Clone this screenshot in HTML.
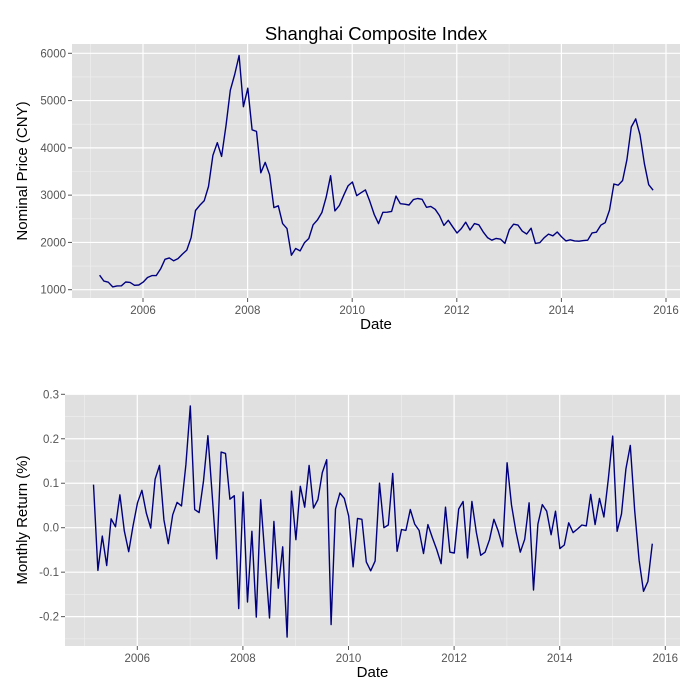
<!DOCTYPE html>
<html><head><meta charset="utf-8"><style>
body{margin:0;background:#fff;}
svg{display:block;font-family:"Liberation Sans",sans-serif;}
</style></head><body>
<svg id="c" width="700" height="700"></svg>
<script>
const prices=[1306,1181,1159,1060,1081,1083,1163,1155,1093,1099,1161,
1258,1299,1298,1440,1642,1672,1612,1658,1752,1838,2099,2675,
2786,2881,3183,3841,4109,3820,4471,5218,5552,5954,4871,5262,
4383,4348,3473,3693,3433,2736,2775,2397,2293,1729,1871,1821,
1991,2082,2373,2477,2633,2959,3412,2667,2779,2996,3195,3277,
2989,3051,3110,2870,2592,2398,2638,2639,2656,2979,2820,2808,
2791,2905,2928,2911,2743,2762,2701,2568,2359,2468,2333,2199,
2292,2428,2263,2397,2373,2225,2103,2047,2086,2069,1980,2269,
2385,2366,2237,2178,2301,1979,1994,2098,2175,2141,2220,2116,
2033,2056,2033,2026,2039,2048,2202,2217,2364,2420,2683,3235,
3210,3310,3748,4442,4612,4277,3664,3220,3105];
const returns=[.097,-.096,-.019,-.085,.020,.002,.074,-.007,-.054,.005,.056,
.084,.033,-.001,.109,.140,.018,-.036,.029,.057,.049,.142,.274,
.041,.034,.105,.207,.070,-.070,.170,.167,.064,.072,-.182,.080,
-.167,-.008,-.201,.063,-.070,-.203,.014,-.136,-.043,-.246,.082,-.027,
.093,.046,.140,.044,.063,.124,.153,-.218,.042,.078,.066,.026,
-.088,.021,.019,-.077,-.097,-.075,.100,.000,.006,.122,-.053,-.004,
-.006,.041,.008,-.006,-.058,.007,-.022,-.049,-.081,.046,-.055,-.057,
.042,.059,-.068,.059,-.010,-.062,-.055,-.027,.019,-.008,-.043,.146,
.051,-.008,-.055,-.026,.056,-.140,.008,.052,.037,-.016,.037,-.047,
-.039,.011,-.011,-.003,.006,.004,.075,.007,.066,.024,.109,.206,
-.008,.031,.132,.185,.038,-.073,-.143,-.121,-.036];
const startYear=2005.17, stepYear=1/12;
const xTicks=[2006,2008,2010,2012,2014,2016];
const priceTicks=[1000,2000,3000,4000,5000,6000];
const retTicks=[-0.2,-0.1,0.0,0.1,0.2,0.3];
const retLabels=["-0.2","-0.1","0.0","0.1","0.2","0.3"];

const svg=document.getElementById('c');
const NS='http://www.w3.org/2000/svg';
function mk(tag,attrs,parent){const e=document.createElementNS(NS,tag);for(const k in attrs)e.setAttribute(k,attrs[k]);(parent||svg).appendChild(e);return e;}

function panel(opt){
  const g=mk('g',{});
  
  
  const xs=y=>opt.x2006+(y-2006)*opt.pxYear;
  const ys=v=>opt.yA+(v-opt.vA)*(opt.yB-opt.yA)/(opt.vB-opt.vA);
  const bg=mk('rect',{x:opt.L,y:opt.T,width:opt.R-opt.L,height:opt.B-opt.T,fill:'#e0e0e0'},g);
  
  
  // minor grid
  for(let i=0;i<opt.yt.length-1;i++){const v=(opt.yt[i]+opt.yt[i+1])/2;mk('line',{x1:opt.L,x2:opt.R,y1:ys(v),y2:ys(v),stroke:'#f0f0f0','stroke-width':0.6},g);}
  {const v=opt.yt[0]-(opt.yt[1]-opt.yt[0])/2;if(ys(v)<opt.B)mk('line',{x1:opt.L,x2:opt.R,y1:ys(v),y2:ys(v),stroke:'#f0f0f0','stroke-width':0.6},g);}
  for(let i=-1;i<opt.xt.length;i++){const v=(i<0?opt.xt[0]-1:opt.xt[i]+1);if(xs(v)>opt.L&&xs(v)<opt.R)mk('line',{x1:xs(v),x2:xs(v),y1:opt.T,y2:opt.B,stroke:'#f0f0f0','stroke-width':0.6},g);}
  // major grid + ticks
  opt.yt.forEach((v,i)=>{
    mk('line',{x1:opt.L,x2:opt.R,y1:ys(v),y2:ys(v),stroke:'#fff','stroke-width':1.2},g);
    mk('line',{x1:opt.L-4,x2:opt.L,y1:ys(v),y2:ys(v),stroke:'#555','stroke-width':1},g);
    const t=mk('text',{x:opt.L-6,y:ys(v)+4,'text-anchor':'end','font-size':11.5,fill:'#555'},g);
    t.textContent=opt.yl[i];
    
    
  });
  opt.xt.forEach(v=>{
    mk('line',{x1:xs(v),x2:xs(v),y1:opt.T,y2:opt.B,stroke:'#fff','stroke-width':1.2},g);
    mk('line',{x1:xs(v),x2:xs(v),y1:opt.B,y2:opt.B+4,stroke:'#555','stroke-width':1},g);
    const t=mk('text',{x:xs(v),y:opt.B+16,'text-anchor':'middle','font-size':11.5,fill:'#555'},g);
    t.textContent=v;
    
    
  });
  const pts=opt.data.map((v,i)=>xs(startYear+i*stepYear).toFixed(1)+','+ys(v).toFixed(1)).join(' ');
  const pl=mk('polyline',{points:pts,fill:'none',stroke:'#00007f','stroke-width':1.4,'stroke-linejoin':'round'},g);
  
  
  const xt=mk('text',{x:(opt.L+opt.R)/2,y:opt.B+31,'text-anchor':'middle','font-size':15,fill:'#000'},g);
  xt.textContent='Date';
  
  
  const yt=mk('text',{x:0,y:0,transform:`translate(27,${(opt.T+opt.B)/2}) rotate(-90)`,'text-anchor':'middle','font-size':15,fill:'#000'},g);
  yt.textContent=opt.ytitle;
  
  
}
const title=mk('text',{x:376,y:40,'text-anchor':'middle','font-size':18.5,fill:'#000'});
title.textContent='Shanghai Composite Index';



panel({name:'price-panel',lineName:'price-line',L:72,R:680,T:44,B:298,x2006:143,pxYear:52.3,
  yA:289.7,vA:1000,yB:53.3,vB:6000,yt:priceTicks,yl:priceTicks.map(String),xt:xTicks,data:prices,ytitle:'Nominal Price (CNY)'});
panel({name:'return-panel',lineName:'return-line',L:65,R:680,T:394,B:646,x2006:137.3,pxYear:52.8,
  yA:527.7,vA:0,yB:394.3,vB:0.3,yt:retTicks,yl:retLabels,xt:xTicks,data:returns,ytitle:'Monthly Return (%)'});
</script>
</body></html>
